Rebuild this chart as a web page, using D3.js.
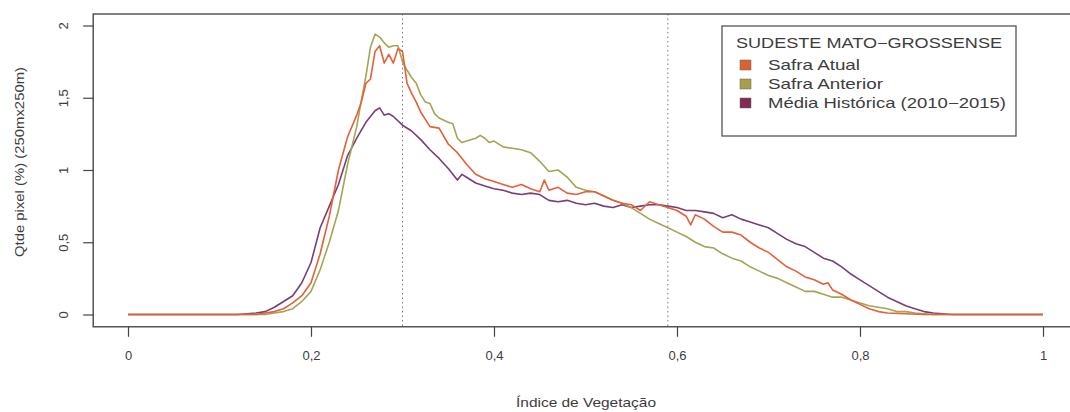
<!DOCTYPE html>
<html><head><meta charset="utf-8">
<script src="https://cdn.jsdelivr.net/npm/d3@7"></script>
<style>body{margin:0;background:#fff}svg{display:block}text{font-family:"Liberation Sans",Arial,sans-serif;fill:#3d3d3d}</style>
</head><body><svg id="c" width="1070" height="412"></svg>
<script>
const seriesNames = ["Safra Atual", "Safra Anterior", "Média Histórica (2010−2015)"];
const seriesColors = ["#e4603a", "#a3a555", "#7a3f72"];
const legendColors = ["#d9622e", "#a7a048", "#852a52"];
const legendTitle = "SUDESTE MATO−GROSSENSE";
const xTicks = [0, 0.2, 0.4, 0.6, 0.8, 1];
const xTickLabels = ["0", "0,2", "0,4", "0,6", "0,8", "1"];
const yTicks = [0, 0.5, 1, 1.5, 2];
const yTickLabels = ["0", "0,5", "1", "1,5", "2"];
const refLines = [0.30, 0.59];

const atualX = [0,0.14,0.15,0.16,0.17,0.18,0.19,0.20,0.21,0.22,0.23,0.24,0.25,0.255,0.26,0.265,0.27,0.275,0.28,0.285,0.29,0.295,0.30,0.305,0.31,0.315,0.32,0.325,0.33,0.34,0.35,0.36,0.37,0.38,0.39,0.40,0.41,0.42,0.43,0.44,0.45,0.455,0.46,0.47,0.48,0.49,0.50,0.51,0.52,0.53,0.54,0.55,0.56,0.57,0.58,0.59,0.60,0.61,0.615,0.62,0.63,0.64,0.65,0.66,0.67,0.68,0.69,0.70,0.71,0.72,0.73,0.74,0.75,0.76,0.765,0.77,0.78,0.79,0.80,0.81,0.82,0.83,0.85,0.87,1];
const atualY = [0,0,0.01,0.02,0.04,0.08,0.13,0.22,0.42,0.68,1.00,1.23,1.38,1.47,1.60,1.63,1.82,1.86,1.74,1.80,1.74,1.84,1.82,1.60,1.53,1.47,1.40,1.35,1.30,1.29,1.18,1.12,1.04,0.97,0.94,0.92,0.90,0.88,0.90,0.87,0.85,0.93,0.86,0.88,0.84,0.83,0.85,0.85,0.82,0.79,0.77,0.76,0.72,0.78,0.76,0.74,0.72,0.68,0.62,0.69,0.66,0.61,0.57,0.57,0.55,0.50,0.46,0.43,0.38,0.33,0.30,0.26,0.24,0.21,0.22,0.17,0.14,0.10,0.07,0.04,0.02,0.01,0.005,0,0];

const anteriorX = [0,0.15,0.16,0.17,0.18,0.19,0.20,0.21,0.22,0.23,0.24,0.25,0.255,0.26,0.265,0.27,0.275,0.28,0.285,0.29,0.295,0.30,0.305,0.31,0.315,0.32,0.325,0.33,0.335,0.34,0.35,0.355,0.36,0.365,0.37,0.38,0.385,0.39,0.395,0.40,0.41,0.42,0.43,0.44,0.45,0.46,0.47,0.48,0.49,0.50,0.51,0.52,0.53,0.54,0.55,0.56,0.57,0.58,0.59,0.60,0.61,0.62,0.63,0.64,0.65,0.66,0.67,0.68,0.69,0.70,0.71,0.72,0.73,0.74,0.75,0.76,0.77,0.78,0.79,0.80,0.81,0.82,0.83,0.84,0.85,0.86,0.88,1];
const anteriorY = [0,0,0.01,0.02,0.04,0.09,0.16,0.31,0.50,0.72,1.04,1.30,1.48,1.65,1.85,1.94,1.92,1.88,1.85,1.86,1.86,1.75,1.69,1.64,1.60,1.52,1.47,1.46,1.39,1.36,1.33,1.32,1.22,1.19,1.20,1.22,1.24,1.22,1.19,1.20,1.16,1.15,1.14,1.12,1.06,0.99,1.00,0.95,0.88,0.86,0.85,0.82,0.79,0.77,0.74,0.70,0.66,0.63,0.60,0.57,0.54,0.50,0.47,0.46,0.42,0.39,0.37,0.33,0.30,0.27,0.25,0.22,0.19,0.16,0.16,0.14,0.12,0.12,0.10,0.08,0.06,0.05,0.04,0.02,0.02,0.01,0,0];

const mediaX = [0,0.12,0.13,0.14,0.15,0.16,0.17,0.18,0.19,0.20,0.21,0.22,0.23,0.24,0.25,0.26,0.27,0.275,0.28,0.285,0.29,0.30,0.31,0.32,0.33,0.34,0.35,0.36,0.365,0.37,0.38,0.39,0.40,0.41,0.42,0.43,0.44,0.45,0.46,0.47,0.48,0.49,0.50,0.51,0.52,0.53,0.54,0.55,0.56,0.57,0.58,0.59,0.60,0.61,0.62,0.63,0.64,0.65,0.66,0.67,0.68,0.69,0.70,0.71,0.72,0.73,0.74,0.75,0.76,0.77,0.78,0.79,0.80,0.81,0.82,0.83,0.84,0.85,0.86,0.87,0.88,0.89,0.90,1];
const mediaY = [0,0,0.005,0.01,0.02,0.05,0.09,0.13,0.22,0.36,0.60,0.75,0.90,1.10,1.22,1.33,1.41,1.43,1.38,1.39,1.37,1.31,1.27,1.21,1.14,1.08,1.01,0.93,0.97,0.95,0.91,0.89,0.87,0.86,0.84,0.83,0.84,0.83,0.79,0.78,0.79,0.77,0.76,0.77,0.75,0.74,0.76,0.74,0.75,0.76,0.76,0.75,0.74,0.72,0.72,0.71,0.70,0.67,0.69,0.66,0.64,0.62,0.60,0.56,0.52,0.49,0.47,0.43,0.39,0.37,0.33,0.28,0.24,0.20,0.16,0.12,0.09,0.06,0.04,0.02,0.01,0.005,0,0];

const series = [[atualX, atualY], [anteriorX, anteriorY], [mediaX, mediaY]];

const svg = d3.select("#c");
const x = d3.scaleLinear().domain([0, 1]).range([128, 1043]);
const y = d3.scaleLinear().domain([0, 2]).range([314.5, 25.5]);
const boxL = x(-0.038), boxR = x(1.04), boxT = y(2.08), boxB = y(-0.085);

refLines.forEach(v => {
  svg.append("line").attr("x1", x(v)).attr("x2", x(v)).attr("y1", boxT).attr("y2", boxB)
    .attr("stroke", "#777").attr("stroke-width", 1).attr("stroke-dasharray", "1.5,3");
});

const line = d3.line().x(d => x(d[0])).y(d => y(d[1]));
[2, 1, 0].forEach(i => {
  const [xs, ys] = series[i];
  svg.append("path").datum(xs.map((v, k) => [v, ys[k]]))
    .attr("d", line).attr("fill", "none").attr("stroke", seriesColors[i])
    .attr("stroke-width", 1.6).attr("stroke-linejoin", "round");
});

svg.append("path").attr("d", `M${boxR},${boxT}H${boxL}V${boxB}H${boxR}`)
  .attr("fill", "none").attr("stroke", "#555").attr("stroke-width", 1.5);

const font = '"Liberation Sans",Arial,sans-serif';
const xa = svg.append("g").attr("transform", `translate(0,${boxB})`)
  .call(d3.axisBottom(x).tickValues(xTicks).tickFormat((d, i) => xTickLabels[i]).tickSize(10).tickPadding(14));
xa.select(".domain").remove();
xa.selectAll("line").attr("stroke", "#444").attr("stroke-width", 1.2);
xa.selectAll("text").attr("font-size", 13).attr("fill", "#3d3d3d").style("font-family", font);

const ya = svg.append("g").attr("transform", `translate(${boxL},0)`)
  .call(d3.axisLeft(y).tickValues(yTicks).tickFormat((d, i) => yTickLabels[i]).tickSize(10).tickPadding(0));
ya.select(".domain").remove();
ya.selectAll("line").attr("stroke", "#444").attr("stroke-width", 1.2);
ya.selectAll("text").attr("font-size", 13).attr("fill", "#3d3d3d")
  .style("font-family", font)
  .attr("text-anchor", "middle").attr("dy", null).attr("x", null)
  .attr("transform", "translate(-30,0) rotate(-90)").attr("dominant-baseline", "central");

svg.append("text").attr("x", 586).attr("y", 402).attr("text-anchor", "middle")
  .attr("dominant-baseline", "central").attr("font-size", 13)
  .attr("textLength", 140).attr("lengthAdjust", "spacingAndGlyphs").text("Índice de Vegetação");
svg.append("text").attr("transform", `translate(19,162) rotate(-90)`)
  .attr("text-anchor", "middle").attr("dominant-baseline", "central").attr("font-size", 13)
  .attr("textLength", 190).attr("lengthAdjust", "spacingAndGlyphs")
  .text("Qtde pixel (%) (250mx250m)");

const lg = svg.append("g");
lg.append("rect").attr("x", 722).attr("y", 26).attr("width", 294).attr("height", 110)
  .attr("fill", "#fff").attr("stroke", "#555").attr("stroke-width", 1.3);
lg.append("text").attr("x", 736).attr("y", 43).attr("dominant-baseline", "central")
  .attr("font-size", 14.5).attr("textLength", 266).attr("lengthAdjust", "spacingAndGlyphs").text(legendTitle);
const entryLen = [92, 115, 238];
seriesNames.forEach((n, i) => {
  const cy = 65 + i * 19;
  lg.append("rect").attr("x", 740).attr("y", cy - 5).attr("width", 11).attr("height", 10)
    .attr("fill", legendColors[i]).attr("stroke", "#666").attr("stroke-width", 0.5);
  lg.append("text").attr("x", 768).attr("y", cy).attr("dominant-baseline", "central")
    .attr("font-size", 14.5).attr("textLength", entryLen[i]).attr("lengthAdjust", "spacingAndGlyphs").text(n);
});
</script></body></html>
